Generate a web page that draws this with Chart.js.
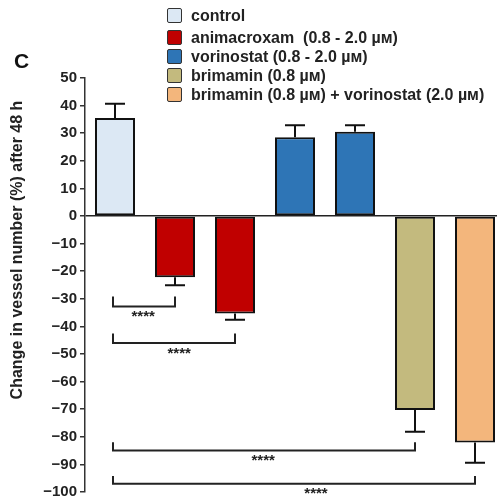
<!DOCTYPE html>
<html>
<head>
<meta charset="utf-8">
<script src="https://cdn.jsdelivr.net/npm/chart.js@4"></script>
<style>
    html, body { margin: 0; padding: 0; background: #fff; overflow: hidden; }
    body { width: 497px; height: 504px; position: relative; font-family: Arial, "Liberation Sans", sans-serif; }
    #wrap { position: absolute; left: 0; top: 0; width: 510px; height: 504px; }
    .panel { position: absolute; left: 14px; top: 49px; font-size: 21px; font-weight: bold; color: #111; }
    .ytitle {
        position: absolute; left: 17px; top: 250px; white-space: nowrap;
        font-size: 16px; font-weight: bold; color: #222;
        transform: translate(-50%, -50%) rotate(-90deg);
    }
    .legend { position: absolute; left: 167px; top: 6px; }
    .legend .row { display: flex; align-items: center; height: 19px; font-size: 16px; font-weight: bold; color: #222; white-space: pre; }
    .legend .row:first-child { margin-bottom: 3px; }
    .legend .box { width: 13px; height: 13px; border: 1.5px solid #333; border-radius: 2px; margin-right: 9px; flex: none; }
</style>
</head>
<body>
<div id="wrap"><canvas id="vesselChart"></canvas></div>
<div class="panel">C</div>
<div class="ytitle">Change in vessel number (%) after 48 h</div>
<div class="legend" id="legend"></div>
<script>
// --- データ ---
const groups = ['control', 'animacroxam 0.8', 'animacroxam 2.0', 'vorinostat 0.8', 'vorinostat 2.0', 'brimamin 0.8', 'brimamin + vorinostat'];
const changeValues = [35.5, -22.2, -35.3, 28.5, 30.5, -70.3, -82.1];
const errorValues = [5.2, 2.9, 2.3, 4.4, 2.4, 7.9, 7.3];
const barColors = ['#dce8f4', '#c00000', '#2e75b6', '#c3ba7e', '#f3b67c'];
const barColorIndex = [0, 1, 1, 2, 2, 3, 4];

// 凡例
const legendLabels = [
    'control',
    'animacroxam  (0.8 - 2.0 µм)',
    'vorinostat (0.8 - 2.0 µм)',
    'brimamin (0.8 µм)',
    'brimamin (0.8 µм) + vorinostat (2.0 µм)'
];

// 有意差ブラケット: [from, to, y, arm top, star position (category units)]
const bracketFrom = [0, 0, 0, 0];
const bracketTo = [1, 2, 5, 6];
const bracketLevel = [-32.8, -46, -85, -97];
const bracketArm = [-29.2, -42.6, -82, -94.2];
const bracketStarAt = [0.47, 1.07, 2.47, 3.35];
const bracketLabel = ['****', '****', '****', '****'];

// y軸
const yMin = -100, yMax = 50, yStep = 10;

(function() {
    // 凡例を描画
    const legend = document.getElementById('legend');
    legendLabels.forEach((label, i) => {
        const row = document.createElement('div');
        row.className = 'row';
        const box = document.createElement('span');
        box.className = 'box';
        box.style.background = barColors[i];
        const txt = document.createElement('span');
        txt.textContent = label;
        row.appendChild(box);
        row.appendChild(txt);
        legend.appendChild(row);
    });

    /**
     * エラーバー (片側) とブラケットを描くプラグイン
     */
    const annotationsPlugin = {
        id: 'annotations',
        afterDatasetsDraw(chart) {
            const ctx = chart.ctx;
            const x = chart.scales.x;
            const y = chart.scales.y;
            ctx.save();
            ctx.strokeStyle = '#111';
            ctx.lineWidth = 2;

            // エラーバー
            changeValues.forEach((v, i) => {
                const px = x.getPixelForValue(i);
                const end = v >= 0 ? v + errorValues[i] : v - errorValues[i];
                const y0 = y.getPixelForValue(v);
                const y1 = y.getPixelForValue(end);
                ctx.beginPath();
                ctx.moveTo(px, y0);
                ctx.lineTo(px, y1);
                ctx.moveTo(px - 10, y1);
                ctx.lineTo(px + 10, y1);
                ctx.stroke();
            });

            // ブラケット
            ctx.strokeStyle = '#222';
            ctx.fillStyle = '#222';
            ctx.font = 'bold 15px Arial';
            ctx.textAlign = 'center';
            ctx.textBaseline = 'top';
            bracketFrom.forEach((from, k) => {
                const xa = x.getPixelForValue(from) - 2;
                const xb = x.getPixelForValue(bracketTo[k]);
                const yl = y.getPixelForValue(bracketLevel[k]);
                const ya = y.getPixelForValue(bracketArm[k]);
                ctx.beginPath();
                ctx.moveTo(xa, ya);
                ctx.lineTo(xa, yl);
                ctx.lineTo(xb, yl);
                ctx.lineTo(xb, ya);
                ctx.stroke();
                const sx = x.getPixelForValue(0) + (x.getPixelForValue(1) - x.getPixelForValue(0)) * bracketStarAt[k];
                ctx.fillText(bracketLabel[k], sx, yl + 3);
            });
            ctx.restore();
        }
    };

    const chartCtx = document.getElementById('vesselChart').getContext('2d');
    new Chart(chartCtx, {
        type: 'bar',
        data: {
            labels: groups,
            datasets: [{
                data: changeValues,
                backgroundColor: barColorIndex.map(c => barColors[c]),
                borderColor: '#111',
                borderWidth: 2,
                borderSkipped: false,
                barPercentage: 0.667,
                categoryPercentage: 1
            }]
        },
        options: {
            responsive: true,
            maintainAspectRatio: false,
            animation: false,
            layout: { padding: { top: 78, bottom: 11, left: 0, right: 5 } },
            plugins: {
                legend: { display: false },
                tooltip: { enabled: false }
            },
            scales: {
                x: { display: false },
                y: {
                    min: yMin,
                    max: yMax,
                    afterFit: scale => { scale.width = 85; },
                    ticks: {
                        stepSize: yStep,
                        padding: 3,
                        color: '#222',
                        font: { family: 'Arial', weight: 'bold', size: 15 },
                        callback: v => v < 0 ? '\u2212' + Math.abs(v) : String(v)
                    },
                    border: { display: true, color: '#333', width: 1.5 },
                    grid: {
                        drawOnChartArea: true,
                        tickLength: 5,
                        tickColor: '#333',
                        lineWidth: 1.5,
                        color: c => c.tick && c.tick.value === 0 ? '#222' : 'rgba(0,0,0,0)'
                    }
                }
            }
        },
        plugins: [annotationsPlugin]
    });
})();
</script>
</body>
</html>
